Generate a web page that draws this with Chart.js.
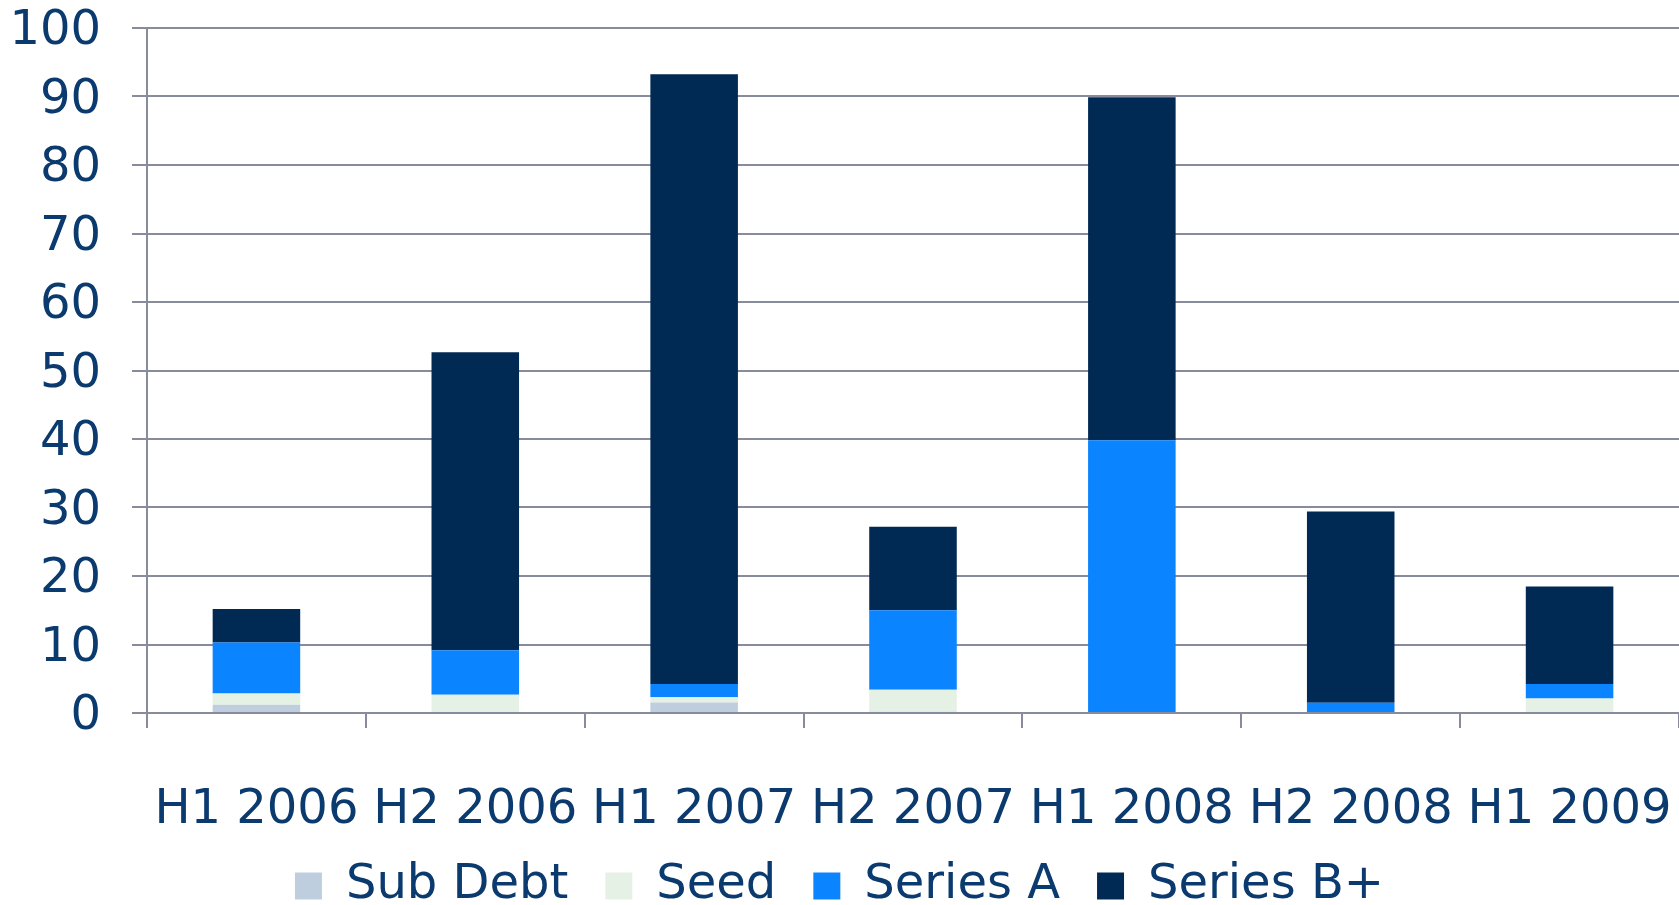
<!DOCTYPE html>
<html>
<head>
<meta charset="utf-8">
<script src="https://cdn.jsdelivr.net/npm/chart.js@4/dist/chart.umd.min.js"></script>
<style>
  html, body { margin: 0; padding: 0; background: #ffffff; }
  #wrap { width: 1679px; height: 905px; position: relative; }
</style>
</head>
<body>
<div id="wrap"><canvas id="c" width="1679" height="905"></canvas></div>
<script>
const categories = ['H1 2006', 'H2 2006', 'H1 2007', 'H2 2007', 'H1 2008', 'H2 2008', 'H1 2009'];
const subDebt  = [1.2, 0.15, 1.55, 0.2, 0, 0, 0];
const seed     = [1.65, 2.5, 0.75, 3.2, 0, 0, 2.1];
const seriesA  = [7.45, 6.5, 1.95, 11.6, 39.8, 1.5, 2.15];
const seriesB  = [4.9, 43.5, 89.0, 12.2, 50.1, 27.9, 14.2];
const yTicks   = [0, 10, 20, 30, 40, 50, 60, 70, 80, 90, 100];

const textColor = '#0B3A6E';
const gridColor = '#878B9B';
const FONT = "'DejaVu Sans', Verdana, sans-serif";

const noLabelClip = {
  id: 'noLabelClip',
  beforeDraw(chart) {
    const sx = chart.scales.x;
    if (sx) { sx._computeLabelArea = function () { return undefined; }; }
  }
};

new Chart(document.getElementById('c'), {
  type: 'bar',
  data: {
    labels: categories,
    datasets: [
      { label: 'Sub Debt', data: subDebt, backgroundColor: '#BFCEDE' },
      { label: 'Seed', data: seed, backgroundColor: '#E6F1E5' },
      { label: 'Series A', data: seriesA, backgroundColor: '#0A84FF' },
      { label: 'Series B+', data: seriesB, backgroundColor: '#002A54' }
    ]
  },
  plugins: [noLabelClip],
  options: {
    responsive: false,
    animation: false,
    devicePixelRatio: 1,
    layout: { padding: { top: 28, right: 0, left: 0, bottom: -15 } },
    datasets: { bar: { barPercentage: 0.4, categoryPercentage: 1.0 } },
    plugins: {
      tooltip: { enabled: false },
      legend: {
        position: 'bottom',
        labels: {
          color: textColor,
          font: { family: FONT, size: 48 },
          boxWidth: 27,
          boxHeight: 27,
          padding: 37
        }
      }
    },
    scales: {
      x: {
        stacked: true,
        grid: { offset: true, drawOnChartArea: false, color: gridColor, lineWidth: 2, tickLength: 15, tickColor: gridColor },
        border: { color: gridColor, width: 2 },
        ticks: { color: textColor, font: { family: FONT, size: 48 }, padding: 54, maxRotation: 0, autoSkip: false },
        afterFit: function (scale) { scale.height = 112; scale.paddingLeft = 0; scale.paddingRight = 0; }
      },
      y: {
        stacked: true,
        min: 0,
        max: 100,
        afterBuildTicks: function (scale) { scale.ticks = yTicks.map(v => ({ value: v })); },
        grid: { color: gridColor, lineWidth: 2, tickLength: 15, tickColor: gridColor },
        border: { color: gridColor, width: 2 },
        ticks: { color: textColor, font: { family: FONT, size: 48 }, padding: 31, labelOffset: 4 },
        afterFit: function (scale) { scale.width = 147; scale.paddingTop = 0; scale.paddingBottom = 0; }
      }
    }
  }
});
</script>
</body>
</html>
